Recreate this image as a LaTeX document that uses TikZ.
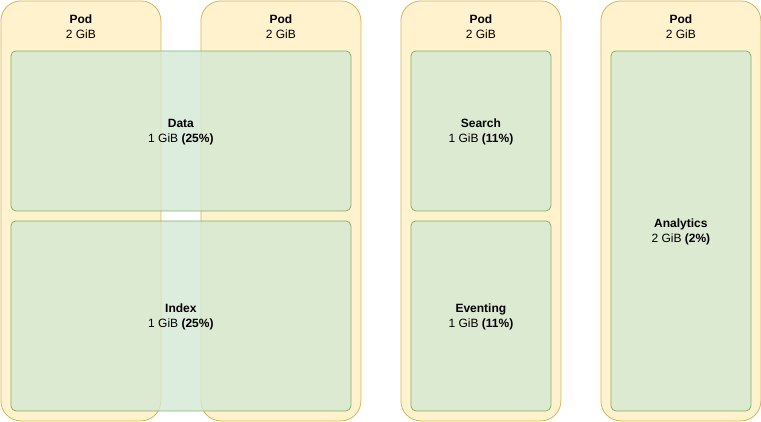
\documentclass[tikz,border=0pt]{standalone}
\usepackage{fontspec}
\setmainfont{Liberation Sans}
\usepackage{tikz}
\usetikzlibrary{positioning}
\definecolor{podFill}{HTML}{FFF2CC}
\definecolor{podLine}{HTML}{D6B656}
\definecolor{memFill}{HTML}{D5E8D4}
\definecolor{memLine}{HTML}{82B366}
\tikzset{
  podNode/.style={%
    draw=podLine, fill=podFill, rounded corners=20pt,
    minimum width=160pt, minimum height=420pt, inner sep=0pt,
    anchor=north west, line width=0.8pt,
  },
  memNode/.style={%
    draw=memLine, fill=memFill, fill opacity=0.8, text opacity=1,
    rounded corners=5pt, inner sep=0pt, anchor=north west,
    line width=0.8pt,
  },
  labelNode/.style={%
    align=center, font=\fontsize{12}{15}\selectfont, inner sep=0pt,
  }
}

\begin{document}
\begin{tikzpicture}[x=1pt,y=-1pt]
                \useasboundingbox (0,0) rectangle (761,421);
                % pods
                \node[podNode] (pod1) at (0.5,0.5) {};
                \node[podNode] (pod2) at (200.5,0.5) {};
                \node[podNode] (pod3) at (400.5,0.5) {};
                \node[podNode] (pod4) at (600.5,0.5) {};
                \foreach \p in {1,2,3,4}
                  \node[labelNode, below=14pt of pod\p.north]
                    (podText\p) {\textbf{Pod}\\2 GiB};
                % memory quotas
                \node[memNode, minimum width=340pt, minimum height=160pt]
                  (data) at (10.5,50.5) {};
                \node[memNode, minimum width=340pt, minimum height=190pt]
                  (index) at (10.5,220.5) {};
                \node[memNode, minimum width=140pt, minimum height=160pt]
                  (search) at (410.5,50.5) {};
                \node[memNode, minimum width=140pt, minimum height=190pt]
                  (eventing) at (410.5,220.5) {};
                \node[memNode, minimum width=140pt, minimum height=360pt]
                  (analytics) at (610.5,50.5) {};
                \node[labelNode] (dataText) at ([yshift=-1pt]data.center)
                  {\textbf{Data}\\1 GiB \textbf{(25\%)}};
                \node[labelNode] (indexText) at ([yshift=-1pt]index.center)
                  {\textbf{Index}\\1 GiB \textbf{(25\%)}};
                \node[labelNode] (searchText) at ([yshift=-1pt]search.center)
                  {\textbf{Search}\\1 GiB \textbf{(11\%)}};
                \node[labelNode] (eventingText) at ([yshift=-1pt]eventing.center)
                  {\textbf{Eventing}\\1 GiB \textbf{(11\%)}};
                \node[labelNode] (analyticsText) at ([yshift=-1pt]analytics.center)
                  {\textbf{Analytics}\\2 GiB \textbf{(2\%)}};
              \end{tikzpicture}
\end{document}
